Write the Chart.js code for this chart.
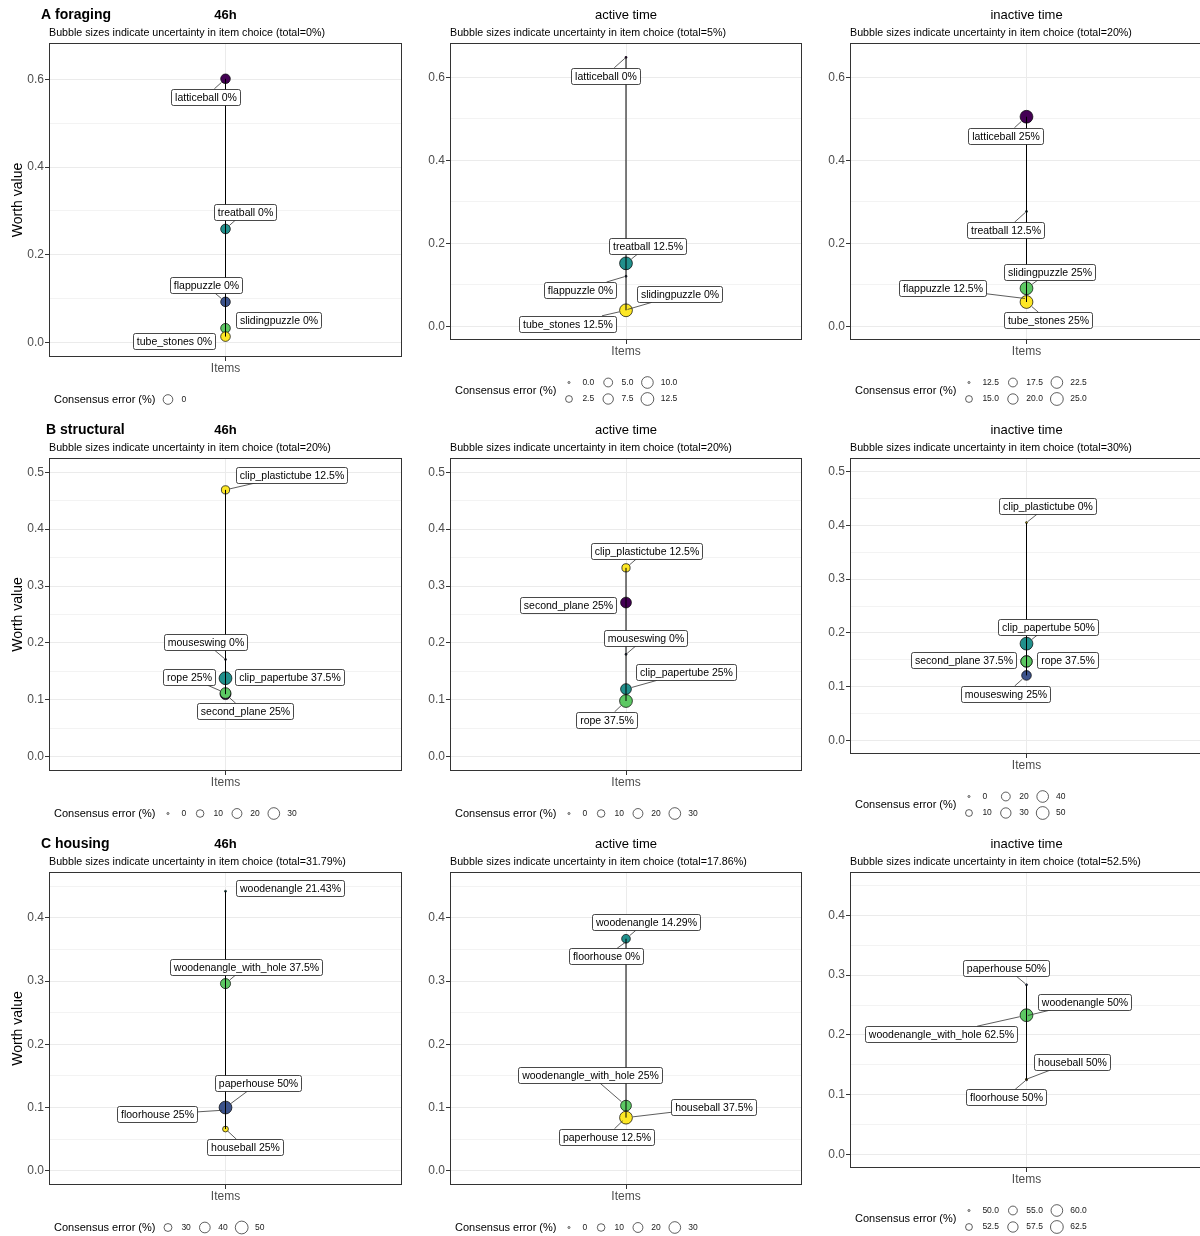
<!DOCTYPE html>
<html>
<head>
<meta charset="utf-8">
<title>Worth values of enrichment items</title>
<script src="https://cdn.jsdelivr.net/npm/chart.js@4.4.1/dist/chart.umd.min.js"></script>
<style>
  html, body { margin: 0; padding: 0; background: #ffffff; }
  body { position: relative; width: 1200px; height: 1236px; overflow: hidden; }
  canvas { position: absolute; }
</style>
</head>
<body>
<script>
// ---------------- data ----------------
const timeConditions = ['46h', 'active time', 'inactive time'];
const categoryTags = ['A foraging', 'B structural', 'C housing'];

// foraging items
const foragingItems = ['latticeball', 'treatball', 'flappuzzle', 'slidingpuzzle', 'tube_stones'];
const foraging46hWorth = [0.601, 0.259, 0.093, 0.033, 0.014];
const foraging46hError = [0, 0, 0, 0, 0];
const foragingActiveWorth = [0.648, 0.152, 0.121, 0.040, 0.039];
const foragingActiveError = [0, 12.5, 0, 0, 12.5];
const foragingInactiveWorth = [0.505, 0.277, 0.067, 0.092, 0.059];
const foragingInactiveError = [25, 12.5, 12.5, 25, 25];
const foragingTotals = [0, 5, 20];

// structural items
const structuralItems = ['clip_plastictube', 'mouseswing', 'clip_papertube', 'second_plane', 'rope'];
const structural46hWorth = [0.469, 0.171, 0.138, 0.110, 0.112];
const structural46hError = [12.5, 0, 37.5, 25, 25];
const structuralActiveWorth = [0.332, 0.180, 0.119, 0.271, 0.098];
const structuralActiveError = [12.5, 0, 25, 25, 37.5];
const structuralInactiveWorth = [0.405, 0.121, 0.180, 0.147, 0.147];
const structuralInactiveError = [0, 25, 50, 37.5, 37.5];
const structuralTotals = [20, 20, 30];

// housing items
const housingItems = ['floorhouse', 'paperhouse', 'woodenangle', 'woodenangle_with_hole', 'houseball'];
const housing46hWorth = [0.096, 0.100, 0.442, 0.296, 0.066];
const housing46hError = [25, 50, 21.43, 37.5, 25];
const housingActiveWorth = [0.362, 0.084, 0.367, 0.103, 0.084];
const housingActiveError = [0, 12.5, 14.29, 25, 37.5];
const housingInactiveWorth = [0.125, 0.284, 0.232, 0.233, 0.126];
const housingInactiveError = [50, 50, 50, 62.5, 50];
const housingTotals = [31.79, 17.86, 52.5];

// worth axis tick labels and upper limits per row
const foragingWorthTicks = ['0.0', '0.2', '0.4', '0.6'];
const structuralWorthTicks = ['0.0', '0.1', '0.2', '0.3', '0.4', '0.5'];
const housingWorthTicks = ['0.0', '0.1', '0.2', '0.3', '0.4'];
const worthUpperLimits = [0.65, 0.5, 0.45];

// size legend breaks (consensus error, %)
const foragingErrorBreaks = [['0'], ['0.0', '2.5', '5.0', '7.5', '10.0', '12.5'], ['12.5', '15.0', '17.5', '20.0', '22.5', '25.0']];
const structuralErrorBreaks = [['0', '10', '20', '30'], ['0', '10', '20', '30'], ['0', '10', '20', '30', '40', '50']];
const housingErrorBreaks = [['30', '40', '50'], ['0', '10', '20', '30'], ['50.0', '52.5', '55.0', '57.5', '60.0', '62.5']];

// ---------------- styles & layout ----------------
const FONT = '"Liberation Sans", Arial, Helvetica, sans-serif';
Chart.defaults.font.family = FONT;

const viridis5 = ['#440154', '#3B528B', '#21908C', '#5DC863', '#FDE725'];
const foragingColours = [viridis5[0], viridis5[2], viridis5[1], viridis5[3], viridis5[4]];
const structuralColours = [viridis5[4], viridis5[1], viridis5[2], viridis5[0], viridis5[3]];
const housingColours = [viridis5[0], viridis5[1], viridis5[2], viridis5[3], viridis5[4]];

// label box offsets (px) from each bubble centre
const foragingLabelOffsets = [
  [[-20, 18], [19.3, -17.3], [-19.8, -16.4], [52.8, -8], [-51.8, 4.5]],
  [[-20.7, 18.4], [21.2, -17], [-46.3, 13.8], [53.3, -15.5], [-59, 13.5]],
  [[-20.8, 19], [-20.8, 18.7], [-83.8, -10.2], [23.2, -16.7], [21.2, 18.3]]
];
const structuralLabelOffsets = [
  [[65.8, -15.2], [-20, -17], [64.2, -0.8], [19.2, 17.1], [-36.3, -15.8]],
  [[20.2, -17.3], [19.5, -16.7], [59.5, -16.7], [-58.5, 2.5], [-19.8, 18.8]],
  [[21, -16.7], [-20.8, 18.6], [21.3, -17], [-62.8, -1], [40.7, -1]]
];
const housingLabelOffsets = [
  [[-68.2, 4.4], [32.3, -24.1], [64, -2.9], [20, -17], [19.5, 18.2]],
  [[-20, 14.4], [-19.8, 19.1], [20, -17], [-35.8, -31], [87.7, -10.4]],
  [[-20.8, 17.5], [-20.5, -17.2], [57.5, -13.8], [-85.3, 19], [45.8, -17.5]]
];

const colLeft = [49, 450, 850];
const colRight = [402, 802, 1203];
const rowTop = [43, 458, 872];
const panelBottom = [[357, 340, 340], [771, 771, 754], [1185, 1185, 1168]];
const canvasX = [0, 405, 805];
const canvasW = [405, 400, 410];
const canvasY = [0, 414, 828];
const canvasH = [414, 414, 408];
const tagX = [41, 46, 41];
const X_AXIS_H = 20;

const R_MIN = 1.0, R_MAX = 6.4;

function bubbleRadius(v, lo, hi) {
  const t = hi > lo ? (v - lo) / (hi - lo) : 0.5;
  return R_MIN + (R_MAX - R_MIN) * Math.sqrt(Math.max(0, Math.min(1, t)));
}

function worthTicks(labels, lo, hi) {
  const majors = labels.map(Number);
  const step = majors[1] - majors[0];
  const out = majors.map((v, i) => ({ value: v, text: labels[i], minor: false }));
  [majors[0] - step / 2].concat(majors.map(v => v + step / 2)).forEach(v => {
    if (v > lo && v < hi) out.push({ value: +v.toFixed(4), text: '', minor: true });
  });
  return out.sort((p, q) => p.value - q.value);
}

function boxPath(ctx, x, y, w, h, r) {
  ctx.beginPath();
  ctx.moveTo(x + r, y);
  ctx.lineTo(x + w - r, y);
  ctx.arcTo(x + w, y, x + w, y + r, r);
  ctx.lineTo(x + w, y + h - r);
  ctx.arcTo(x + w, y + h, x + w - r, y + h, r);
  ctx.lineTo(x + r, y + h);
  ctx.arcTo(x, y + h, x, y + h - r, r);
  ctx.lineTo(x, y + r);
  ctx.arcTo(x, y, x + r, y, r);
  ctx.closePath();
}

function drawItemLabel(ctx, px, py, pr, text, off) {
  const dx = off[0], dy = off[1];
  ctx.save();
  ctx.font = '10.5px ' + FONT;
  const tw = ctx.measureText(text).width;
  const w = Math.round(tw + 7), h = 16;
  const cx = px + dx, cy = py + dy;
  const x0 = Math.round(cx - w / 2) + 0.5, y0 = Math.round(cy - h / 2) + 0.5;
  const d = Math.hypot(dx, dy);
  const tEdge = Math.min(dx ? (w / 2) / Math.abs(dx) : Infinity, dy ? (h / 2) / Math.abs(dy) : Infinity);
  if (tEdge < 1) {
    const ex = cx - dx * tEdge, ey = cy - dy * tEdge;
    const sx = px + dx / d * (pr + 0.5), sy = py + dy / d * (pr + 0.5);
    const len = d * (1 - tEdge) - (pr + 0.5);
    if (len > 1 && !(Math.abs(dy) < 9 && len < 12)) {
      ctx.strokeStyle = '#333333';
      ctx.lineWidth = 0.8;
      ctx.beginPath();
      ctx.moveTo(sx, sy);
      ctx.lineTo(ex, ey);
      ctx.stroke();
    }
  }
  boxPath(ctx, x0, y0, w, h, 2);
  ctx.fillStyle = '#ffffff';
  ctx.fill();
  ctx.strokeStyle = '#1a1a1a';
  ctx.lineWidth = 0.8;
  ctx.stroke();
  ctx.fillStyle = '#000000';
  ctx.textAlign = 'center';
  ctx.textBaseline = 'middle';
  ctx.fillText(text, x0 + w / 2, y0 + h / 2 + 0.5);
  ctx.restore();
}

function drawErrorLegend(ctx, x0, y1, breaks, lo, hi) {
  const rowsN = breaks.length > 4 ? 2 : 1, gap = 16.5;
  ctx.save();
  ctx.textBaseline = 'middle';
  ctx.textAlign = 'left';
  ctx.fillStyle = '#000000';
  ctx.font = '11px ' + FONT;
  const title = 'Consensus error (%)';
  ctx.fillText(title, x0, y1 + (rowsN - 1) * gap / 2);
  let cx = x0 + ctx.measureText(title).width + 12.5;
  ctx.font = '8.5px ' + FONT;
  const cols = Math.ceil(breaks.length / rowsN);
  for (let c = 0; c < cols; c++) {
    let colW = 0;
    for (let r = 0; r < rowsN; r++) {
      const k = c * rowsN + r;
      if (k >= breaks.length) continue;
      const y = y1 + r * gap;
      ctx.beginPath();
      ctx.arc(cx, y, bubbleRadius(parseFloat(breaks[k]), lo, hi), 0, Math.PI * 2);
      ctx.fillStyle = '#ffffff';
      ctx.fill();
      ctx.lineWidth = 0.7;
      ctx.strokeStyle = '#1a1a1a';
      ctx.stroke();
      ctx.fillStyle = '#1a1a1a';
      ctx.fillText(breaks[k], cx + 13.4, y);
      colW = Math.max(colW, ctx.measureText(breaks[k]).width);
    }
    cx += 13.4 + colW + 14;
  }
  ctx.restore();
}

// draws labels, panel border, titles and the size legend of one panel
const panelDecor = {
  id: 'panelDecor',
  afterDatasetsDraw(chart, args, o) {
    const ctx = chart.ctx, a = chart.chartArea;
    const bubbles = chart.getDatasetMeta(1).data;
    o.items.forEach((name, i) => {
      const el = bubbles[i];
      drawItemLabel(ctx, el.x, el.y, el.options.radius, name + ' ' + o.errors[i] + '%', o.offsets[i]);
    });
    ctx.save();
    ctx.strokeStyle = '#333333';
    ctx.lineWidth = 1;
    ctx.strokeRect(Math.round(a.left) + 0.5, Math.round(a.top) + 0.5,
      Math.round(a.right - a.left) - 1, Math.round(a.bottom - a.top) - 1);
    ctx.restore();
  },
  afterDraw(chart, args, o) {
    const ctx = chart.ctx, a = chart.chartArea;
    ctx.save();
    ctx.fillStyle = '#000000';
    ctx.textBaseline = 'middle';
    if (o.tag) {
      ctx.font = 'bold 14px ' + FONT;
      ctx.textAlign = 'left';
      ctx.fillText(o.tag, o.tagX, a.top - 27.5);
    }
    ctx.font = (o.boldTitle ? 'bold ' : '') + '13px ' + FONT;
    ctx.textAlign = 'center';
    ctx.fillText(o.title, (a.left + a.right) / 2, a.top - 27.5);
    ctx.font = '10.7px ' + FONT;
    ctx.textAlign = 'left';
    ctx.fillText(o.subtitle, a.left, a.top - 10);
    ctx.restore();
    drawErrorLegend(ctx, a.left + 5, a.bottom + 42.5, o.breaks, o.errLo, o.errHi);
  }
};

const rowsSpec = [
  { items: foragingItems, worth: [foraging46hWorth, foragingActiveWorth, foragingInactiveWorth],
    errors: [foraging46hError, foragingActiveError, foragingInactiveError], totals: foragingTotals,
    ticks: foragingWorthTicks, breaks: foragingErrorBreaks, colours: foragingColours, offsets: foragingLabelOffsets },
  { items: structuralItems, worth: [structural46hWorth, structuralActiveWorth, structuralInactiveWorth],
    errors: [structural46hError, structuralActiveError, structuralInactiveError], totals: structuralTotals,
    ticks: structuralWorthTicks, breaks: structuralErrorBreaks, colours: structuralColours, offsets: structuralLabelOffsets },
  { items: housingItems, worth: [housing46hWorth, housingActiveWorth, housingInactiveWorth],
    errors: [housing46hError, housingActiveError, housingInactiveError], totals: housingTotals,
    ticks: housingWorthTicks, breaks: housingErrorBreaks, colours: housingColours, offsets: housingLabelOffsets }
];

rowsSpec.forEach((row, ri) => {
  const yHi = worthUpperLimits[ri] * 1.05, yLo = -worthUpperLimits[ri] * 0.05;
  for (let ci = 0; ci < 3; ci++) {
    const worth = row.worth[ci], errors = row.errors[ci];
    const errLo = Math.min(...errors), errHi = Math.max(...errors);
    const canvas = document.createElement('canvas');
    canvas.width = canvasW[ci];
    canvas.height = canvasH[ri];
    canvas.style.left = canvasX[ci] + 'px';
    canvas.style.top = canvasY[ri] + 'px';
    document.body.appendChild(canvas);

    const yAxisW = colLeft[ci] - canvasX[ci];
    const padTop = rowTop[ri] - canvasY[ri];
    const padRight = canvasX[ci] + canvasW[ci] - colRight[ci];
    const padBottom = canvasY[ri] + canvasH[ri] - panelBottom[ri][ci] - X_AXIS_H;

    const linePts = worth.map(v => ({ x: 0, y: v })).sort((p, q) => p.y - q.y);
    const bubblePts = worth.map((v, i) => ({ x: 0, y: v, r: bubbleRadius(errors[i], errLo, errHi) }));

    new Chart(canvas, {
      type: 'bubble',
      data: {
        datasets: [
          { type: 'line', data: linePts, borderColor: '#000000', borderWidth: 1, pointRadius: 0,
            fill: false, tension: 0, order: 0 },
          { data: bubblePts, backgroundColor: row.colours, borderColor: '#000000', borderWidth: 0.7,
            order: 1, clip: false }
        ]
      },
      options: {
        responsive: false,
        animation: false,
        events: [],
        layout: { autoPadding: false, padding: { left: 0, right: padRight, top: padTop, bottom: padBottom } },
        plugins: {
          legend: { display: false },
          tooltip: { enabled: false },
          panelDecor: {
            items: row.items, errors: errors, offsets: row.offsets[ci],
            tag: ci === 0 ? categoryTags[ri] : '', tagX: tagX[ri] - canvasX[ci],
            title: timeConditions[ci], boldTitle: ci === 0,
            subtitle: 'Bubble sizes indicate uncertainty in item choice (total=' + row.totals[ci] + '%)',
            breaks: row.breaks[ci], errLo: errLo, errHi: errHi
          }
        },
        scales: {
          x: {
            type: 'linear', min: -1, max: 1,
            afterBuildTicks: s => { s.ticks = [{ value: 0 }]; },
            afterFit: s => { s.height = X_AXIS_H; },
            ticks: { callback: () => 'Items', font: { size: 12 }, color: '#4D4D4D', padding: 0,
              maxRotation: 0, autoSkip: false },
            grid: { color: '#EBEBEB', lineWidth: 1, tickColor: '#333333', tickLength: 4 },
            border: { display: false }
          },
          y: {
            type: 'linear', min: yLo, max: yHi,
            afterBuildTicks: s => { s.ticks = worthTicks(row.ticks, yLo, yHi); },
            afterFit: s => { s.width = yAxisW; },
            ticks: { callback: (v, i, t) => t[i].text, font: { size: 12 }, color: '#4D4D4D', padding: 1,
              autoSkip: false },
            grid: {
              color: c => (c.tick && c.tick.minor) ? '#F3F3F3' : '#EBEBEB',
              tickColor: c => (c.tick && c.tick.minor) ? 'rgba(0,0,0,0)' : '#333333',
              lineWidth: 1, tickLength: 4
            },
            border: { display: false },
            title: { display: ci === 0, text: 'Worth value', color: '#000000', font: { size: 14 },
              padding: { top: 10, bottom: 0 } }
          }
        }
      },
      plugins: [panelDecor]
    });
  }
});
</script>
</body>
</html>
